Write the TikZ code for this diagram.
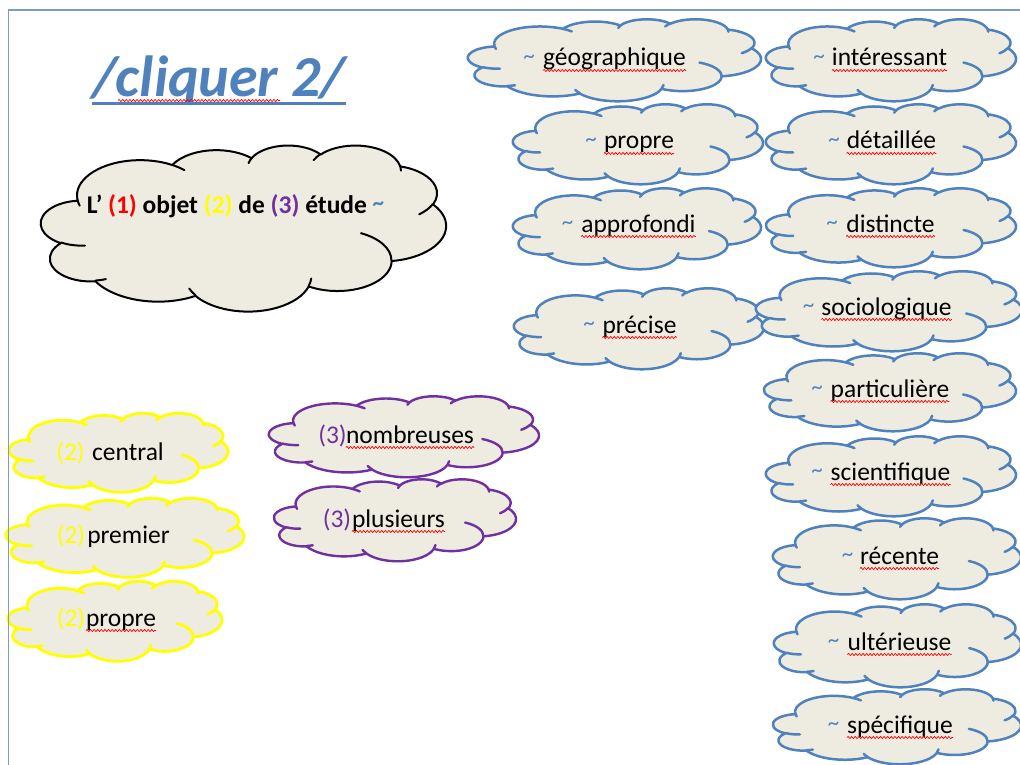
\documentclass[tikz,border=0pt]{standalone}
\usepackage{fontspec}
\setmainfont{Carlito}
\usetikzlibrary{decorations.pathmorphing}
\definecolor{tblue}{RGB}{79,129,189}
\definecolor{cfill}{RGB}{238,236,225}
\definecolor{cyel}{RGB}{255,255,0}
\definecolor{cpur}{RGB}{112,48,160}
\definecolor{cred}{RGB}{255,0,0}
\definecolor{framec}{RGB}{125,155,200}
\newcommand\wf{\fontsize{25.5}{30}\selectfont}
\newcommand\tlf{\fontsize{23}{28}\selectfont}
\newcommand\ocloud[5]{%
 \pgfmathsetmacro\cw{(#3-#1)/43.2}%
 \pgfmathsetmacro\ch{(#4-#2)/43.2}%
 \begin{scope}[shift={(#1,#2)},x=\cw pt,y=-\ch pt]
 \draw[#5] (3.9,14.37)
 arc[x radius=6.753,y radius=9.19,start angle=172.25,end angle=300.37]
 arc[x radius=5.333,y radius=7.267,start angle=-152.03,end angle=-45.46]
 arc[x radius=4.365,y radius=5.945,start angle=-153.49,end angle=-37.33]
 arc[x radius=4.857,y radius=6.595,start angle=-139.72,end angle=-10.21]
 arc[x radius=5.333,y radius=7.273,start angle=-74.77,end angle=23.21]
 arc[x radius=6.775,y radius=9.22,start angle=-37.52,end angle=81.86]
 arc[x radius=5.785,y radius=7.867,start angle=0.46,end angle=121.97]
 arc[x radius=6.752,y radius=9.215,start angle=16.84,end angle=146.22]
 arc[x radius=7.72,y radius=10.543,start angle=58.98,end angle=150.20]
 arc[x radius=4.36,y radius=5.918,start angle=83.31,end angle=223.09]
 arc[x radius=4.345,y radius=5.945,start angle=120.35,end angle=264.11]
 -- cycle;
 \draw[#5,fill=none,line cap=round]
 (4.693,26.177) arc[x radius=4.345,y radius=5.945,start angle=85.54,end angle=120.35]
 (6.928,34.899) arc[x radius=4.36,y radius=5.918,start angle=68.24,end angle=83.31]
 (16.478,39.09) arc[x radius=6.752,y radius=9.215,start angle=146.22,end angle=158.47]
 (28.827,34.751) arc[x radius=6.752,y radius=9.215,start angle=4.74,end angle=16.84]
 (34.129,22.954) arc[x radius=5.785,y radius=7.867,start angle=-64.03,end angle=0.46]
 (41.798,15.354) arc[x radius=5.333,y radius=7.273,start angle=23.21,end angle=49.65]
 (38.324,5.426) arc[x radius=4.857,y radius=6.595,start angle=-10.21,end angle=0.82]
 (29.078,3.952) arc[x radius=4.857,y radius=6.595,start angle=-156.29,end angle=-139.72]
 (22.141,4.72) arc[x radius=4.365,y radius=5.945,start angle=-167.73,end angle=-153.49]
 (14,5.192) arc[x radius=6.753,y radius=9.19,start angle=-59.63,end angle=-45.74]
 (4.127,15.789) arc[x radius=6.753,y radius=9.19,start angle=163.19,end angle=172.25];
 \end{scope}}
\begin{document}
\begin{tikzpicture}[x=1pt,y=-1pt,
 bluecl/.style={draw=tblue,fill=cfill,line width=2.5pt,line join=round},
 blackcl/.style={draw=black,fill=cfill,line width=2pt,line join=round},
 yelcl/.style={draw=cyel,fill=cfill,line width=2.8pt,line join=round},
 purcl/.style={draw=cpur,fill=cfill,line width=2.4pt,line join=round},
 wd/.style={font=\wf,inner sep=0pt,anchor=base,text=black},
 tl/.style={font=\tlf,inner sep=0pt,anchor=base,text=tblue,yshift=2.5pt},
 wavy/.style={draw=cred,line width=0.7pt,decorate,decoration={snake,amplitude=1.1pt,segment length=3.6pt}},
 framel/.style={draw=framec,line width=1.2pt},
 ttlstyle/.style={font=\fontsize{58}{66}\selectfont\bfseries\itshape,text=tblue,inner sep=0pt,anchor=base}]
\useasboundingbox (0,0) rectangle (1020,765);
\clip (0,0) rectangle (1020,765);
\fill[white] (0,0) rectangle (1020,765);
% clouds
\ocloud{41}{145}{446}{311}{blackcl}
\ocloud{468}{19}{761}{101}{bluecl}
\ocloud{513}{104}{763}{184}{bluecl}
\ocloud{513}{188}{761}{269}{bluecl}
\ocloud{514}{288}{764}{369}{bluecl}
\ocloud{766}{19}{1016}{101}{bluecl}
\ocloud{766}{104}{1016}{184}{bluecl}
\ocloud{766}{188}{1016}{267}{bluecl}
\ocloud{756}{271}{1022}{351}{bluecl}
\ocloud{764}{353}{1016}{431}{bluecl}
\ocloud{766}{436}{1016}{516}{bluecl}
\ocloud{773}{518}{1021}{599}{bluecl}
\ocloud{774}{604}{1021}{687}{bluecl}
\ocloud{773}{689}{1021}{764}{bluecl}
\ocloud{9}{413}{228}{492}{yelcl}
\ocloud{6}{498}{244}{577}{yelcl}
\ocloud{8}{581}{222}{661}{yelcl}
\ocloud{269}{396}{539}{477}{purcl}
\ocloud{274}{479}{516}{561}{purcl}
% frame
\draw[framel] (8.5,765) -- (8.5,10) -- (1020,10);
% title
\node[ttlstyle] (ttl) at (219,97) {/cliquer 2/};
\draw[tblue,line width=2.8pt] ([yshift=-6.5pt]ttl.base west) -- ([yshift=-6.5pt]ttl.base east);
\coordinate (cq1) at (118,100.5);
\coordinate (cq2) at (280,100.5);
\draw[wavy] (cq1) -- (cq2);
% main cloud text
\node[wd,font=\wf\bfseries] (main) at (235.5,213) {L’ \textcolor{cred}{(1)} objet \textcolor{cyel}{(2)} de \textcolor{cpur}{(3)} étude \textcolor{tblue}{\raisebox{2.5pt}{\tlf\textasciitilde}}};
% blue words
\foreach \n/\w/\x/\y/\t in {1/géographique/614.5/66/529, 2/propre/639/149/591, 3/approfondi/638.5/232/567.5, 4/précise/639.5/333/589, 5/intéressant/889.5/66/819, 6/détaillée/891.5/149/834, 7/distincte/890.5/232/832, 8/sociologique/886.5/315/808.5, 9/particulière/890/397/817, 10/scientifique/890.5/480/817, 11/récente/899.5/564/847.5, 12/ultérieuse/899.5/650/833.5, 13/spécifique/900/733/833.5}{
 \node[wd] (w\n) at (\x,\y) {\w};
 \node[tl] (t\n) at (\t,\y) {\textasciitilde};
 \draw[wavy] ([yshift=-4.5pt]w\n.base west) -- ([yshift=-4.5pt]w\n.base east);
}
% yellow words
\node[wd,text=cyel] (y1p) at (70.5,460) {(2)};
\node[wd] (y1) at (128,460) {central};
\node[wd,text=cyel] (y2p) at (71,543) {(2)};
\node[wd] (y2) at (128.5,543) {premier};
\node[wd,text=cyel] (y3p) at (71,626) {(2)};
\node[wd] (y3) at (121,626) {propre};
\draw[wavy] ([yshift=-4.5pt]y3.base west) -- ([yshift=-4.5pt]y3.base east);
% purple words
\node[wd,text=cpur] (p1p) at (332.5,443) {(3)};
\node[wd] (p1) at (410,443) {nombreuses};
\draw[wavy] ([yshift=-4.5pt]p1.base west) -- ([yshift=-4.5pt]p1.base east);
\node[wd,text=cpur] (p2p) at (337,527) {(3)};
\node[wd] (p2) at (398.5,527) {plusieurs};
\draw[wavy] ([yshift=-4.5pt]p2.base west) -- ([yshift=-4.5pt]p2.base east);
\end{tikzpicture}
\end{document}
